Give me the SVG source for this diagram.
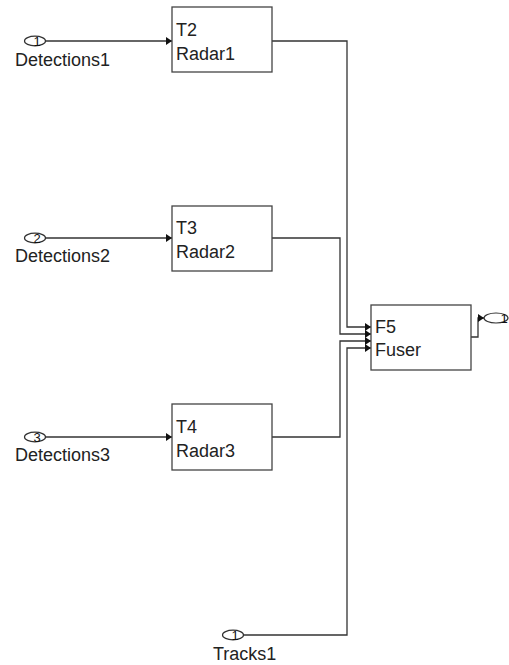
<svg xmlns="http://www.w3.org/2000/svg" width="509" height="665" viewBox="0 0 509 665">
<defs>
<style>
.blk{fill:#fff;stroke:#444;stroke-width:1.3}
.port{fill:#fff;stroke:#333;stroke-width:1.2}
.ln{fill:none;stroke:#333;stroke-width:1.3}
.t{font-family:"Liberation Sans",Arial,sans-serif;font-size:18px;fill:#222}
.n{font-family:"Liberation Sans",Arial,sans-serif;font-size:13px;fill:#111;text-anchor:middle}
</style>
<marker id="ar" viewBox="0 0 6 8" refX="6" refY="4" markerWidth="6" markerHeight="8" markerUnits="userSpaceOnUse" orient="auto">
<path d="M0,0 L6,4 L0,8 Z" fill="#111"/>
</marker>
</defs>
<rect width="509" height="665" fill="#fff"/>
<g id="connectors">
<path class="ln" d="M45,41 H172" marker-end="url(#ar)"/>
<path class="ln" d="M45,238 H172" marker-end="url(#ar)"/>
<path class="ln" d="M45,437 H172" marker-end="url(#ar)"/>
<path class="ln" d="M272,41 H347 V327 H371" marker-end="url(#ar)"/>
<path class="ln" d="M272,238 H340 V334 H371" marker-end="url(#ar)"/>
<path class="ln" d="M272,437 H340 V341 H371" marker-end="url(#ar)"/>
<path class="ln" d="M244,635 H347 V348 H371" marker-end="url(#ar)"/>
<path class="ln" d="M471,337 H478 V318 H484" marker-end="url(#ar)"/>
</g>
<g id="in1">
<ellipse class="port" cx="35" cy="41" rx="10.5" ry="4.8"/>
<text class="n" x="37" y="45.5">1</text>
<text class="t" x="15" y="65.5">Detections1</text>
</g>
<g id="in2">
<ellipse class="port" cx="35" cy="238" rx="10.5" ry="4.8"/>
<text class="n" x="37" y="242.5">2</text>
<text class="t" x="15" y="261.7">Detections2</text>
</g>
<g id="in3">
<ellipse class="port" cx="35" cy="437" rx="10.5" ry="4.8"/>
<text class="n" x="37" y="441.5">3</text>
<text class="t" x="15" y="460.7">Detections3</text>
</g>
<g id="tracks1">
<ellipse class="port" cx="233" cy="635" rx="10.5" ry="4.8"/>
<text class="n" x="235" y="639.5">1</text>
<text class="t" x="213" y="660">Tracks1</text>
</g>
<g id="T2">
<rect class="blk" x="172" y="7" width="100" height="65"/>
<text class="t" x="176" y="36">T2</text>
<text class="t" x="176" y="60">Radar1</text>
</g>
<g id="T3">
<rect class="blk" x="172" y="206" width="100" height="65"/>
<text class="t" x="176" y="234">T3</text>
<text class="t" x="176" y="258">Radar2</text>
</g>
<g id="T4">
<rect class="blk" x="172" y="404" width="100" height="66"/>
<text class="t" x="176" y="433">T4</text>
<text class="t" x="176" y="457">Radar3</text>
</g>
<g id="F5">
<rect class="blk" x="371" y="305" width="100" height="65"/>
<text class="t" x="375" y="333">F5</text>
<text class="t" x="375" y="356">Fuser</text>
</g>
<g id="out1">
<ellipse class="port" cx="496" cy="318" rx="12" ry="5"/>
<text class="n" x="504" y="322.5">1</text>
</g>
</svg>
